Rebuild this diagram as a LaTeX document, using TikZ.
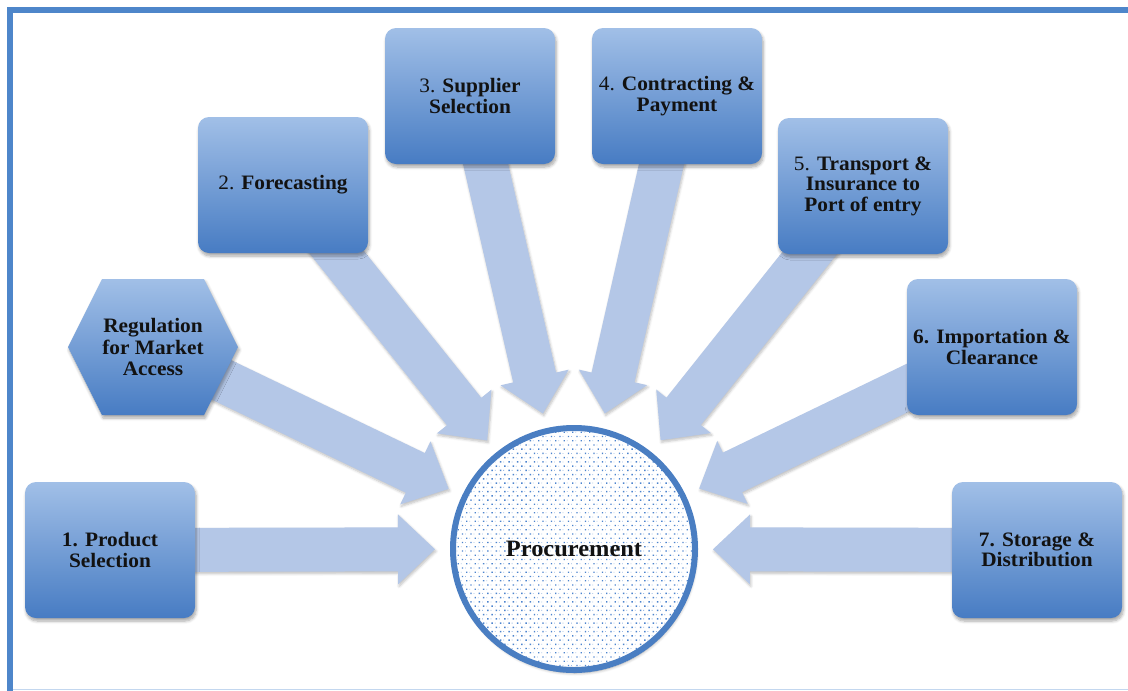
\documentclass[tikz,border=0pt]{standalone}
\usepackage{fontspec}
\setmainfont{Liberation Serif}[FakeStretch=1.04]
\usetikzlibrary{calc,shadows,shadows.blur,patterns.meta,backgrounds}

\definecolor{frameblue}{HTML}{4E86CA}
\definecolor{edgeline}{HTML}{C3D7EF}
\definecolor{boxtop}{HTML}{A1BFE7}
\definecolor{boxbot}{HTML}{477CC3}
\definecolor{arrowfill}{HTML}{B4C7E7}
\definecolor{hubrim}{HTML}{4A7EC2}
\definecolor{dotblue}{HTML}{4C84CE}
\definecolor{ink}{HTML}{121212}

\tikzset{
  softshadow/.style={blur shadow={shadow xshift=1.2pt, shadow yshift=-3pt,
      shadow blur steps=6, shadow blur radius=3pt, shadow opacity=35}},
  stepbox/.style={rounded corners=11pt, minimum width=170pt, minimum height=136pt,
      inner sep=0pt, top color=boxtop, bottom color=boxbot, text=ink, align=center,
      font=\bfseries\fontsize{20.5}{20.5}\selectfont, softshadow},
  hexbody/.style={top color=boxtop, bottom color=boxbot, softshadow},
  hextext/.style={text=ink, align=center, font=\bfseries\fontsize{20.5}{21.5}\selectfont},
  hub/.style={circle, minimum size=242pt, inner sep=0pt, softshadow,
      preaction={fill=white},
      preaction={pattern={Dots[distance=6pt, radius=0.55pt, angle=45, xshift=3pt]},
                 pattern color=dotblue!55},
      draw=hubrim, line width=6pt,
      pattern={Dots[distance=6pt, radius=0.95pt, angle=45]}, pattern color=dotblue,
      text=ink, font=\bfseries\fontsize{23.5}{26}\selectfont},
  bigarrow/.style={fill=arrowfill, draw=none,
      blur shadow={shadow xshift=1pt, shadow yshift=-2pt, shadow blur steps=5,
      shadow blur radius=2.5pt, shadow opacity=25}},
}

% block arrow from tail #1 to tip #2
\newcommand\blockarrow[2]{%
  \coordinate (hb) at ($(#2)!37pt!(#1)$);
  \path[bigarrow] ($(hb)!22pt!90:(#2)$) -- ($(hb)!35pt!90:(#2)$) -- (#2)
    -- ($(hb)!35pt!-90:(#2)$) -- ($(hb)!22pt!-90:(#2)$)
    -- ($(#1)!22pt!-90:(#2)$) -- ($(#1)!22pt!90:(#2)$) -- cycle;}

\begin{document}
\begin{tikzpicture}[x=1pt, y=-1pt]
  \useasboundingbox (0,0) rectangle (1128,691);

  % frame
  \draw[frameblue, line width=6pt, line join=miter] (10,691) -- (10,10) -- (1128,10);
  \draw[edgeline, line width=1.5pt] (13,689.5) -- (1128,689.5);

  % hexagon
  \coordinate (hc) at (153,347);
  \path[hexbody] (68,347) -- (102,279) -- (204,279) -- (238,347) -- (204,415) -- (102,415) -- cycle;
  \node[hextext] (hx) at (hc) {Regulation\\for Market\\Access};

  % hub
  \node[hub] (pc) at (574,549) {Procurement};

  % steps
  \node[stepbox] (s1) at (110,550) {1. Product\\Selection};
  \node[stepbox] (s2) at (283,185) {{\mdseries 2.} Forecasting};
  \node[stepbox] (s3) at (470,96) {{\mdseries 3.} Supplier\\Selection};
  \node[stepbox] (s4) at (677,96) {{\mdseries 4.} Contracting \&\\Payment};
  \node[stepbox] (s5) at (863,186) {{\mdseries 5.} Transport \&\\Insurance to\\Port of entry};
  \node[stepbox] (s6) at (992,347) {6. Importation \&\\Clearance};
  \node[stepbox] (s7) at (1037,550) {7. Storage \&\\Distribution};

  % arrow tips on a ring round the hub
  \foreach \t in {s1,s2,s3,s4,s5,s6,s7,hx}
    \coordinate (tip-\t) at ($(pc.center)!139pt!(\t.center)$);

  \begin{pgfonlayer}{background}
    \foreach \t in {s1,s2,s3,s4,s5,s6,s7,hx}
      {\blockarrow{\t.center}{tip-\t}}
  \end{pgfonlayer}
\end{tikzpicture}
\end{document}
